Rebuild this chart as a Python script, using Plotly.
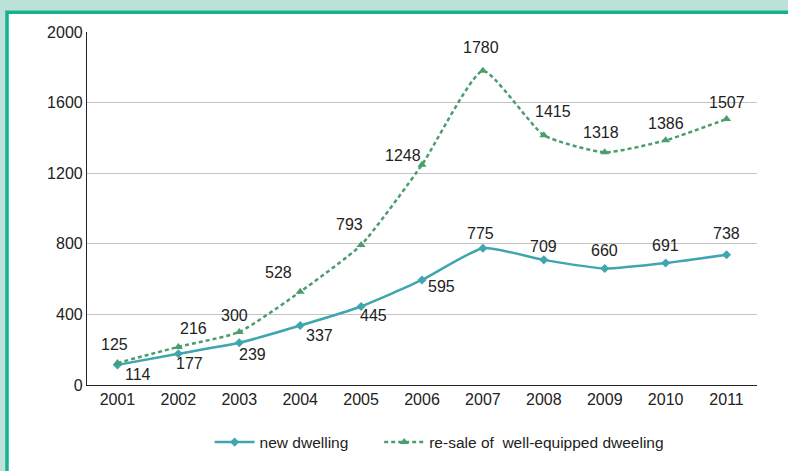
import plotly.graph_objects as go

years = ["2001", "2002", "2003", "2004", "2005", "2006", "2007", "2008", "2009", "2010", "2011"]
new_dwelling = [114, 177, 239, 337, 445, 595, 775, 709, 660, 691, 738]
resale = [125, 216, 300, 528, 793, 1248, 1780, 1415, 1318, 1386, 1507]
y_ticks = [0, 400, 800, 1200, 1600, 2000]

# label offsets in px (x, y-up)
new_off = [(21, -10), (11, -10), (13, -12), (19, -10), (12, -9), (19, -7),
           (-2, 15), (0, 13), (0, 18), (0, 18), (0, 21)]
resale_off = [(-3, 18), (15, 18), (-5, 17), (-22, 19), (-12, 21), (-19, 9),
              (-2, 23), (9, 24), (-4, 20), (0, 17), (0, 17)]

TEAL = "#3fa5ae"
GREEN = "#4a9e6d"
FONT = "Liberation Sans, Arial, sans-serif"

fig = go.Figure()
fig.add_trace(go.Scatter(
    x=years, y=new_dwelling, name="new dwelling" + "\u00a0" * 6, mode="lines+markers",
    line=dict(color=TEAL, width=2.5, shape="spline", smoothing=0.5),
    marker=dict(symbol="diamond", size=7, color=TEAL),
))
fig.add_trace(go.Scatter(
    x=years, y=resale, name="re-sale of\u00a0 well-equipped dweeling", mode="lines+markers",
    line=dict(color=GREEN, width=2.5, dash="4px,3px", shape="spline", smoothing=0.5),
    marker=dict(symbol="triangle-up", size=8, color=GREEN),
))

# category axis: annotation x is the category index
for vals, offs in ((new_dwelling, new_off), (resale, resale_off)):
    for i, (v, (dx, dy)) in enumerate(zip(vals, offs)):
        fig.add_annotation(x=i, y=v, text=str(v), showarrow=False,
                           xshift=dx, yshift=dy, font=dict(size=16, color="#222"))

# white panel with teal border
fig.add_shape(type="rect", xref="paper", yref="paper", layer="below",
              x0=-0.1194, x1=1.12, y0=-0.27, y1=1.056,
              fillcolor="white", line=dict(color="#17b092", width=3.5))

fig.update_layout(
    width=788, height=471,
    margin=dict(l=87, r=31, t=32, b=83),
    paper_bgcolor="#bce2d9", plot_bgcolor="white",
    font=dict(family=FONT, size=16, color="#222"),
    showlegend=True,
    legend=dict(orientation="h", x=0.183, y=-0.163, xanchor="left", yanchor="middle",
                font=dict(size=15.5), bgcolor="rgba(0,0,0,0)", itemwidth=40,
                tracegroupgap=0),
    xaxis=dict(type="category", range=[-0.5, len(years) - 0.5], showline=True,
               linecolor="#222", linewidth=1.2, showgrid=False, ticks="",
               tickfont=dict(size=16)),
    yaxis=dict(range=[0, 2000], tickvals=y_ticks, showline=True, linecolor="#222",
               linewidth=1.2, gridcolor="#c4c4c4", gridwidth=1.2, ticks="",
               zeroline=False, tickfont=dict(size=16)),
)

fig.write_html("out.html", config={"displayModeBar": False},
               post_script="document.body.style.margin='0';")
